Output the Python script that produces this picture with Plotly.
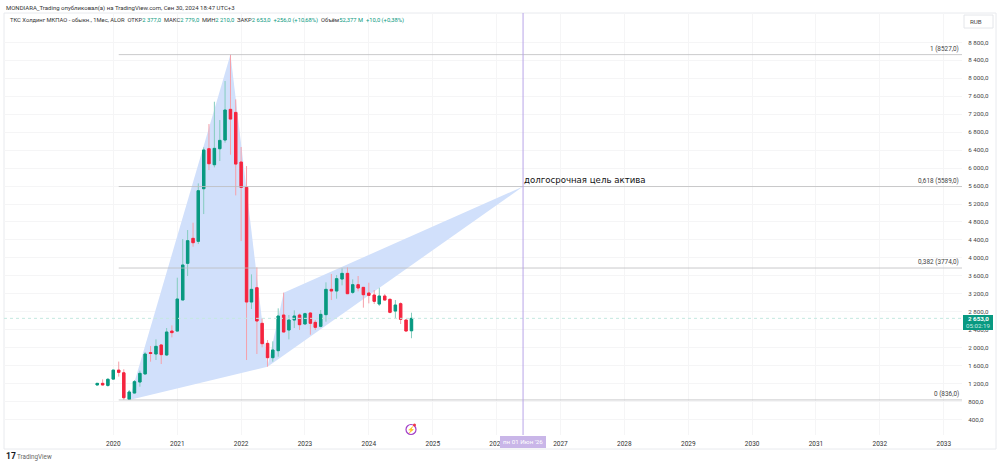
import plotly.graph_objects as go

months = ["2019-10","2019-11","2019-12","2020-01","2020-02","2020-03","2020-04","2020-05","2020-06","2020-07","2020-08","2020-09",
          "2020-10","2020-11","2020-12","2021-01","2021-02","2021-03","2021-04","2021-05","2021-06","2021-07","2021-08","2021-09",
          "2021-10","2021-11","2021-12","2022-01","2022-02","2022-03","2022-04","2022-05","2022-06","2022-07","2022-08","2022-09",
          "2022-10","2022-11","2022-12","2023-01","2023-02","2023-03","2023-04","2023-05","2023-06","2023-07","2023-08","2023-09",
          "2023-10","2023-11","2023-12","2024-01","2024-02","2024-03","2024-04","2024-05","2024-06","2024-07","2024-08","2024-09"]
dates = [m + "-01" for m in months]
opens = [1170,1205,1160,1300,1500,1440,850,990,1235,1414,1890,1859,
         2060,1837,2370,2370,3062,3878,4435,4368,5540,6431,6075,6431,
         6625,7308,7240,6134,5570,3017,3336,2542,2096,1777,1933,2727,
         2393,2616,2727,2527,2772,2564,2475,2735,3299,3262,3529,3655,
         3232,3403,3343,3217,3172,2972,3150,3076,2816,2980,2616,2377]
highs = [1215,1295,1325,1510,1690,1520,1057,1280,1488,1904,2037,2186,
         2082,2438,2497,3559,4420,4620,4783,5659,6461,6981,7478,7070,
         7939,8527,7530,6469,6045,3633,3789,2653,2170,2141,2876,3225,
         2727,2831,2760,2779,2794,2616,2839,3455,3640,3618,3767,3789,
         3522,3596,3343,3447,3284,3336,3195,3098,3061,3009,2616,2779]
lows = [1160,1160,1130,1290,1355,840,836,983,1131,1414,1688,1725,
        1636,1815,2230,2371,3062,3596,4249,4308,4976,5956,6016,6157,
        6565,6298,5392,4375,1725,2861,1859,2007,1577,1688,1799,2349,
        2185,2438,2393,2527,2289,2393,2453,2579,3061,3091,3388,3195,
        3195,3254,2891,2987,2972,2930,3061,2764,2660,2527,2371,2210]
closes = [1205,1170,1295,1500,1450,886,1013,1243,1428,1859,1870,2030,
          1845,2349,2335,3084,3841,4383,4338,5496,6402,6097,6439,6617,
          7293,7092,6090,5570,3017,3299,2594,2089,1777,1948,2705,2349,
          2616,2705,2512,2757,2542,2453,2742,3299,3262,3537,3655,3202,
          3403,3329,3180,3165,3032,3150,3061,2787,2950,2631,2371,2653]

pattern_left_dates = ["2020-04-01","2021-11-01","2022-06-01"]
pattern_left_prices = [836,8527,1577]
pattern_right_dates = ["2022-06-01","2022-09-01","2026-06-01"]
pattern_right_prices = [1577,3225,5589]

fib_levels = [8527,5589,3774,836]
fib_labels = ["1 (8527,0)","0,618 (5589,0)","0,382 (3774,0)","0 (836,0)"]
fib_start = "2020-02-01"
axis_end = "2033-04-15"
axis_start = "2018-04-16"
cursor_date = "2026-06-01"
last_price = 2653

price_ticks = list(range(400, 9200, 400))
price_labels = [f"{p:,.1f}".replace(","," ").replace(".",",") for p in price_ticks]
years = list(range(2020, 2034))

GREEN, RED = "#089981", "#f5253f"
FONT = "Roboto, Liberation Sans, sans-serif"
W, H = 1000, 467
def px(v): return v / W
def py(v): return 1 - v / H

def polygon(ds, ps):
    return "M " + " L ".join(f"{d},{p}" for d, p in zip(ds, ps)) + " Z"

fig = go.Figure()
for lvl in fib_levels:
    fig.add_trace(go.Scatter(x=[fib_start, axis_end], y=[lvl, lvl], mode="lines",
                             line=dict(color="#bcbcbe", width=0.8), hoverinfo="skip", showlegend=False))
fig.add_trace(go.Scatter(x=[axis_start, axis_end], y=[last_price]*2, mode="lines",
                         line=dict(color="#c4e8e0", width=1, dash="dot"), hoverinfo="skip", showlegend=False))
fig.add_trace(go.Scatter(x=[cursor_date]*2, y=[55, 9454], mode="lines",
                         line=dict(color="#b9a5e8", width=1), hoverinfo="skip", showlegend=False))
# wicks
fig.add_trace(go.Candlestick(x=dates, open=opens, high=highs, low=lows, close=closes, whiskerwidth=0,
                             increasing=dict(line=dict(color="#84ccbf", width=1), fillcolor="#84ccbf"),
                             decreasing=dict(line=dict(color="#f5a0aa", width=1), fillcolor="#f5a0aa"),
                             showlegend=False))
# bodies
fig.add_trace(go.Candlestick(x=dates, open=opens, close=closes,
                             high=[max(o, c) for o, c in zip(opens, closes)],
                             low=[min(o, c) for o, c in zip(opens, closes)], whiskerwidth=0,
                             increasing=dict(line=dict(color=GREEN, width=1), fillcolor=GREEN),
                             decreasing=dict(line=dict(color=RED, width=1), fillcolor=RED),
                             showlegend=False))

ann = []
def note(x, y, text, size=7, color="#444", xanchor="left", yanchor="middle", **kw):
    ann.append(dict(x=x, y=y, xref="paper", yref="paper", text=text, showarrow=False, xanchor=xanchor, yanchor=yanchor,
                    font=dict(size=size, color=color, family=FONT), borderpad=0, **kw))

note(px(5), py(7.5), "MONDIARA_Trading опубликовал(а) на TradingView.com, Сен 30, 2024 18:47 UTC+3", size=6, color="#333")
g = lambda s: f'<span style="color:{GREEN}">{s}</span>'
note(px(9), py(20.5), "ТКС Холдинг МКПАО - обыкн., 1Мес, ALOR  ОТКР" + g("2 377,0") + "  МАКС" + g("2 779,0") + "  МИН" + g("2 210,0")
     + "  ЗАКР" + g("2 653,0") + "  " + g("+256,0 (+10,68%)") + "  Объём" + g("52,377 M") + "  " + g("+10,0 (+0,38%)"), size=5.8, color="#333")
for lvl, lab in zip(fib_levels, fib_labels):
    ann.append(dict(x=px(959.5), xref="paper", y=lvl, yref="y", text=lab, showarrow=False, xanchor="right", yanchor="bottom",
                    yshift=1, font=dict(size=6.4, color="#444", family=FONT), borderpad=0))
ann.append(dict(x=cursor_date, xref="x", y=5589, yref="y", text="долгосрочная цель актива", showarrow=False, xanchor="left",
                yanchor="bottom", xshift=0, yshift=1, font=dict(size=8.6, color="#111", family="DejaVu Sans"), borderpad=0))
note(px(969), py(21.5), "RUB", size=6.2, color="#444")
note(px(978), py(318.5), "<b>2 653,0</b>", size=6.2, color="#fff", xanchor="center")
note(px(978), py(326), "05:02:19", size=6.2, color="#c8ebe4", xanchor="center")
note(px(523), py(442), "пн 01 Июн '26", size=6.2, color="#fff", xanchor="center")
note(px(5), py(456), "<b>17</b>", size=8.5, color="#131722")
note(px(16), py(456.5), "TradingView", size=6.3, color="#666")
note(px(411), py(429.5), "⚡", size=6.5, color="#a23ec7", xanchor="center")

shapes = [
    dict(type="rect", xref="paper", yref="paper", x0=px(4), x1=px(996), y0=py(449), y1=py(13),
         line=dict(color="#e8eaee", width=1), fillcolor="rgba(0,0,0,0)", layer="below"),
    dict(type="path", xref="x", yref="y", path=polygon(pattern_left_dates, pattern_left_prices),
         line=dict(width=0), fillcolor="#d1e0fb", layer="between"),
    dict(type="path", xref="x", yref="y", path=polygon(pattern_right_dates, pattern_right_prices),
         line=dict(width=0), fillcolor="#d1e0fb", layer="between"),
    dict(type="rect", xref="paper", yref="paper", x0=px(964), x1=px(993), y0=py(28), y1=py(15),
         line=dict(color="#e4e6ea", width=1), fillcolor="#fff"),
    dict(type="rect", xref="paper", yref="paper", x0=px(963), x1=px(993), y0=py(330), y1=py(315),
         line=dict(width=0), fillcolor=GREEN),
    dict(type="rect", xref="paper", yref="paper", x0=px(500), x1=px(546), y0=py(448), y1=py(436),
         line=dict(width=0), fillcolor="#c9b6e8"),
    dict(type="circle", xref="paper", yref="paper", x0=px(406), x1=px(416), y0=py(434.5), y1=py(424.5),
         line=dict(color="#a23ec7", width=1.2), fillcolor="#fff"),
    dict(type="circle", xref="paper", yref="paper", x0=px(413), x1=px(416), y0=py(426.5), y1=py(423.5),
         line=dict(width=0), fillcolor="#f23645"),
]

fig.update_layout(
    width=W, height=H, margin=dict(l=0, r=0, t=0, b=0), paper_bgcolor="#fff", plot_bgcolor="#fff",
    showlegend=False, annotations=ann, shapes=shapes, hovermode=False,
    xaxis=dict(domain=[px(4), px(962)], type="date", range=[axis_start, axis_end], rangeslider=dict(visible=False),
               tickvals=[f"{y}-01-01" for y in years], ticktext=[str(y) for y in years],
               showgrid=True, gridcolor="#f5f5f6", gridwidth=1, zeroline=False, showline=False, ticks="outside",
               ticklen=2, tickcolor="rgba(0,0,0,0)", tickfont=dict(size=6.5, color="#333", family=FONT)),
    yaxis=dict(domain=[py(435), py(13)], range=[55, 9454], side="right", tickvals=price_ticks, ticktext=price_labels,
               showgrid=True, gridcolor="#f5f5f6", gridwidth=1, zeroline=False, showline=False, ticks="outside",
               ticklen=4, tickcolor="rgba(0,0,0,0)", tickfont=dict(size=6.2, color="#444", family=FONT)),
)
fig.write_html("out.html", config=dict(displayModeBar=False),
               post_script="document.body.style.margin='0';")
